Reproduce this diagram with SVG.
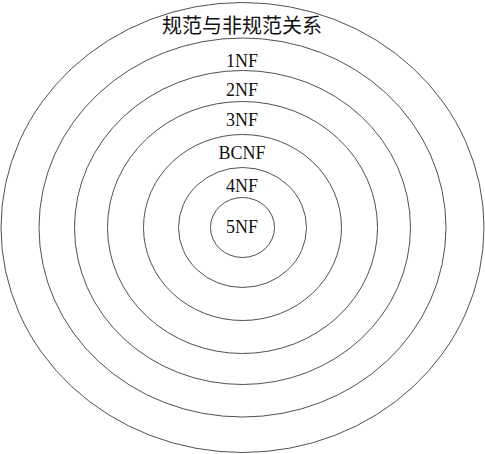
<svg xmlns="http://www.w3.org/2000/svg" width="485" height="454" viewBox="0 0 485 454">
<style>
.ring{fill:none;stroke:#505050;stroke-width:1}
.lbl{font-family:"Liberation Serif","Times New Roman",serif;font-size:18px;fill:#111;text-anchor:middle}
.cjk{font-family:"Liberation Serif","Noto Sans CJK SC",serif;font-size:20px;fill:#111;text-anchor:middle}
</style>
<rect width="485" height="454" fill="#fff"/>
<g id="all">
<ellipse class="ring" cx="242.5" cy="227.5" rx="241.5" ry="225"/>
<text class="cjk" x="242" y="33">规范与非规范关系</text>
</g>
<g id="nf1">
<ellipse class="ring" cx="242.5" cy="227.5" rx="203.5" ry="189.5"/>
<text class="lbl" x="242" y="67">1NF</text>
</g>
<g id="nf2">
<ellipse class="ring" cx="242.5" cy="227.5" rx="168" ry="157"/>
<text class="lbl" x="242" y="96">2NF</text>
</g>
<g id="nf3">
<ellipse class="ring" cx="242.5" cy="227.5" rx="135" ry="126"/>
<text class="lbl" x="242" y="126">3NF</text>
</g>
<g id="bcnf">
<ellipse class="ring" cx="242.5" cy="227.5" rx="99" ry="93"/>
<text class="lbl" x="242" y="159">BCNF</text>
</g>
<g id="nf4">
<ellipse class="ring" cx="242.5" cy="227.5" rx="64" ry="60"/>
<text class="lbl" x="242" y="192">4NF</text>
</g>
<g id="nf5">
<ellipse class="ring" cx="242.5" cy="227.5" rx="32" ry="30"/>
<text class="lbl" x="242" y="233">5NF</text>
</g>
<g id="connectors"/>
</svg>
